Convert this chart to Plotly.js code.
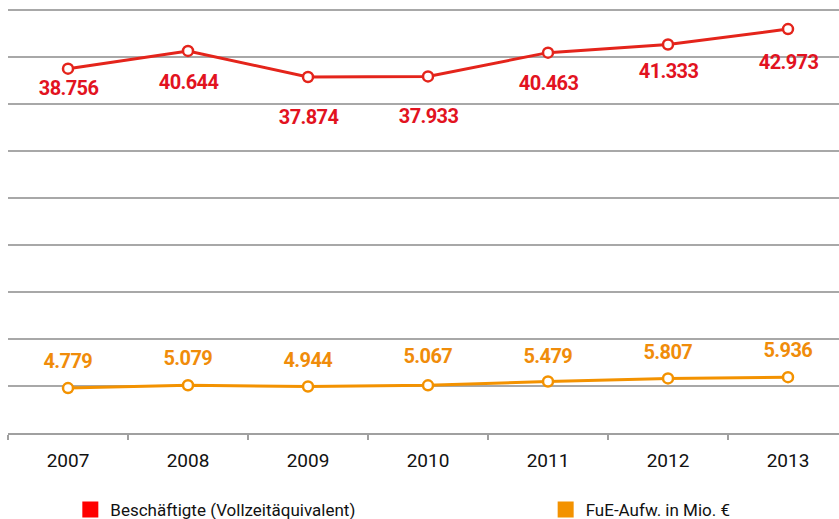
<!DOCTYPE html>
<html>
<head>
<meta charset="utf-8">
<script src="https://cdn.plot.ly/plotly-3.0.1.min.js"></script>
<style>
html,body{margin:0;padding:0;overflow:hidden;background:#fff;}
#chart{width:839px;height:519px;}
#chart .annotation-text{letter-spacing:-0.6px;}
</style>
</head>
<body>
<div id="chart"></div>
<script>
const years = ['2007','2008','2009','2010','2011','2012','2013'];
const employees = [38756, 40644, 37874, 37933, 40463, 41333, 42973];
const rdSpending = [4779, 5079, 4944, 5067, 5479, 5807, 5936];
const seriesNames = ['Beschäftigte (Vollzeitäquivalent)', 'FuE-Aufw. in Mio. €'];
// label vertical offsets (px) as in the reference
const employeeLabelShift = [-19, -31, -40, -40, -30, -27, -33];
const rdLabelShift = [27, 27, 27, 29, 26, 26, 27];

const RED = '#e4241b';
const RED_TXT = '#e2131f';
const ORANGE = '#f39200';
const ORANGE_TXT = '#f08c0a';
const FONT = 'Roboto, Arial, sans-serif';

function fmt(v){ return String(v).replace(/\B(?=(\d{3})+(?!\d))/g, '.'); }

const traces = [
  {x: years, y: employees, type: 'scatter', mode: 'lines+markers', showlegend: false,
   line: {color: RED, width: 3}, marker: {size: 10, color: '#fff', line: {color: RED, width: 2.5}}},
  {x: years, y: rdSpending, type: 'scatter', mode: 'lines+markers', showlegend: false,
   line: {color: ORANGE, width: 3}, marker: {size: 10, color: '#fff', line: {color: ORANGE, width: 2.5}}},
  {x: [null], y: [null], type: 'scatter', mode: 'markers', name: seriesNames[0], legend: 'legend',
   marker: {symbol: 'square', size: 16, color: '#ff0000'}},
  {x: [null], y: [null], type: 'scatter', mode: 'markers', name: seriesNames[1], legend: 'legend2',
   marker: {symbol: 'square', size: 16, color: ORANGE}}
];

const annotations = [];
years.forEach((yr, i) => {
  annotations.push({xref: 'x', yref: 'y', x: i, y: employees[i], text: '<b>' + fmt(employees[i]) + '</b>', showarrow: false,
    yshift: employeeLabelShift[i], font: {family: FONT, size: 20, color: RED_TXT}});
  annotations.push({xref: 'x', yref: 'y', x: i, y: rdSpending[i], text: '<b>' + fmt(rdSpending[i]) + '</b>', showarrow: false,
    yshift: rdLabelShift[i], font: {family: FONT, size: 20, color: ORANGE_TXT}});
});

const legendBase = {orientation: 'h', xanchor: 'left', y: -0.181, yanchor: 'middle',
  bgcolor: 'rgba(0,0,0,0)',
  font: {family: FONT, size: 17, color: '#111'}};

const layout = {
  width: 839, height: 519,
  margin: {l: 8, r: 0, t: 8, b: 86, autoexpand: false},
  paper_bgcolor: '#fff', plot_bgcolor: '#fff',
  font: {family: FONT, color: '#111'},
  xaxis: {type: 'category', range: [-0.5, 6.425], tickson: 'boundaries', ticks: 'outside',
    ticklen: 5, tickwidth: 2, tickcolor: '#a0a0a0', showgrid: false, showline: true,
    linecolor: '#a0a0a0', linewidth: 2, ticklabelstandoff: 9,
    tickfont: {family: FONT, size: 19, color: '#111'}, fixedrange: true},
  yaxis: {range: [0, 45213], dtick: 5000, showticklabels: false, showgrid: true,
    gridcolor: '#a8a8a8', gridwidth: 2, zeroline: false, showline: false, ticks: '', fixedrange: true},
  showlegend: true,
  legend: Object.assign({}, legendBase, {x: 0.075}),
  legend2: Object.assign({}, legendBase, {x: 0.647}),
  annotations: annotations
};

Plotly.newPlot('chart', traces, layout, {staticPlot: true, displayModeBar: false});
</script>
</body>
</html>
